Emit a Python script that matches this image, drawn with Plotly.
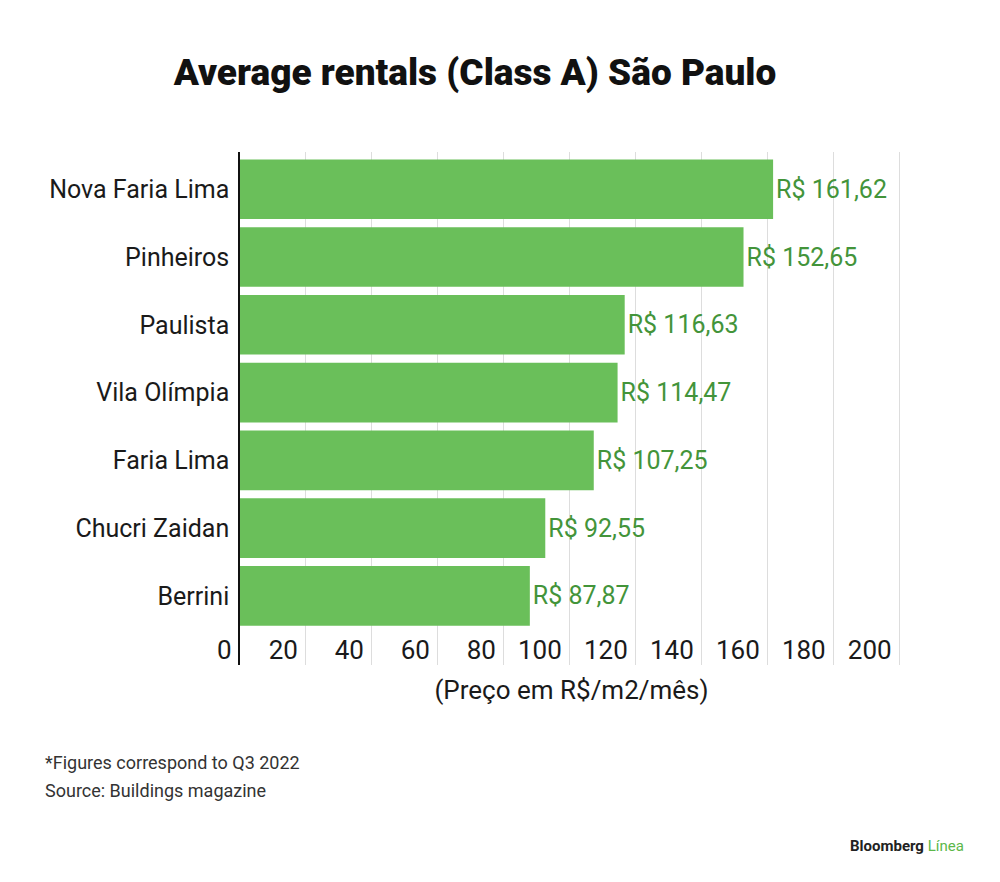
import plotly.graph_objects as go

categories = ["Berrini", "Chucri Zaidan", "Faria Lima", "Vila Olímpia", "Paulista", "Pinheiros", "Nova Faria Lima"]
values = [87.87, 92.55, 107.25, 114.47, 116.63, 152.65, 161.62]
value_labels = ["R$ 87,87", "R$ 92,55", "R$ 107,25", "R$ 114,47", "R$ 116,63", "R$ 152,65", "R$ 161,62"]
tick_vals = [0, 20, 40, 60, 80, 100, 120, 140, 160, 180, 200]

FONT = "Roboto"
BAR = "#6abf5a"
TXT_GREEN = "#43943a"
DARK = "#1a1a1a"

# page offset (body margin) compensation
OFF = 8
L, R, T, B = 240 - OFF, 1000 - (903 - OFF), 152 - OFF, 882 - (665 - OFF)
PW, PH = 1000 - L - R, 882 - T - B


def px(xs):
    return (xs - OFF - L) / PW


def py(ys):
    return 1 - (ys - OFF - T) / PH


fig = go.Figure(go.Bar(
    x=values, y=categories, orientation="h",
    marker=dict(color=BAR, line=dict(width=0)),
    text=value_labels, textposition="outside",
    textfont=dict(family=FONT, size=25, color=TXT_GREEN),
    cliponaxis=False, hoverinfo="skip",
))

fig.update_layout(
    width=1000, height=882,
    margin=dict(l=L, r=R, t=T, b=B),
    paper_bgcolor="white", plot_bgcolor="white",
    bargap=0.12, showlegend=False,
    title=dict(text="Average rentals (Class A) São Paulo",
               font=dict(family=FONT, size=37, color="#111111", weight=900),
               x=(475 - OFF) / 1000, xanchor="center", y=1 - (72 - OFF) / 882, yanchor="middle"),
    xaxis=dict(range=[0, 201], tickvals=tick_vals, showgrid=True, gridcolor="#dddddd", gridwidth=1,
               zeroline=False, showline=False, ticks="",
               ticklabelposition="inside left", ticklabelshift=-8, ticklabelstandoff=-5,
               tickfont=dict(family=FONT, size=26, color=DARK),
               title=dict(text="(Preço em R$/m2/mês)", font=dict(family=FONT, size=26, color=DARK), standoff=17),
               automargin=False),
    yaxis=dict(type="category", range=[-1.02, 6.55], showgrid=False, zeroline=False,
               showline=True, linecolor="#111111", linewidth=1.5, ticks="",
               ticklabelstandoff=4,
               tickfont=dict(family=FONT, size=25, color=DARK), automargin=False),
)

# the "0" tick label sits left of the axis line
fig.add_annotation(text=str(tick_vals[0]), x=tick_vals[0], xref="x", yref="paper", y=py(650),
                   xanchor="right", yanchor="middle", xshift=-6, showarrow=False,
                   font=dict(family=FONT, size=26, color=DARK))

fig.add_annotation(text="*Figures correspond to Q3 2022", xref="paper", yref="paper",
                   x=px(43), y=py(762), xanchor="left", yanchor="middle", showarrow=False,
                   font=dict(family=FONT, size=18, color="#333333"))
fig.add_annotation(text="Source: Buildings magazine", xref="paper", yref="paper",
                   x=px(43), y=py(790), xanchor="left", yanchor="middle", showarrow=False,
                   font=dict(family=FONT, size=18, color="#333333"))
fig.add_annotation(text="<b>Bloomberg</b> <span style='color:#5cb84a'>Línea</span>", xref="paper", yref="paper",
                   x=px(966), y=py(846), xanchor="right", yanchor="middle", showarrow=False,
                   font=dict(family=FONT, size=15, color="#222222"))

fig.write_html("out.html")
